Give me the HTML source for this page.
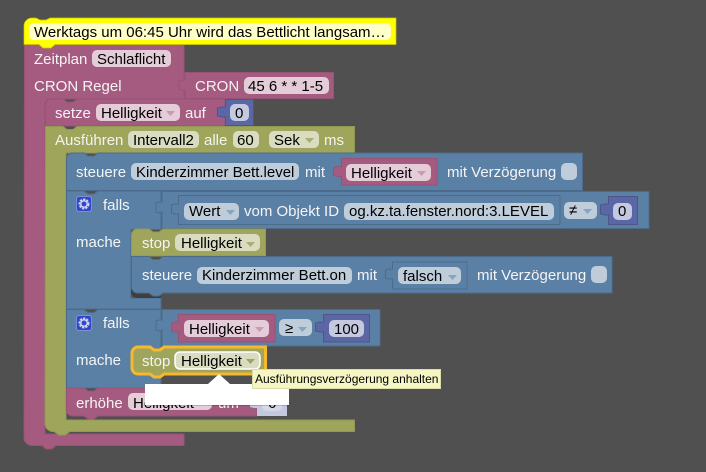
<!DOCTYPE html>
<html><head><meta charset="utf-8">
<style>
html,body{margin:0;padding:0;background:#505050;width:706px;height:472px;overflow:hidden}
svg{display:block;position:absolute;left:0;top:0}
text{font-family:"Liberation Sans",sans-serif;font-size:15px}
.w{fill:#f4f4f4}
.k{fill:#000}
.p{fill:#a55b80;stroke:#975274;stroke-width:1}
.g{fill:#9fa55b;stroke:#929854;stroke-width:1}
.b{fill:#5b80a5;stroke:#4c6b8a;stroke-width:1}
.n{fill:#5b67a5;stroke:#4c568a;stroke-width:1}
.fp{fill:#e4cdd9}
.fg{fill:#d9dcc0}
.fb{fill:#bfcddb}
.fn{fill:#c5c9e0}
.inb{fill:none;stroke:#4c6b8a;stroke-width:1}
</style></head><body>
<svg width="706" height="472" viewBox="0 0 706 472">
<rect width="706" height="472" fill="#505050"/>

<!-- outer pink C block -->
<path class="p" d="M24.5 44.5H184V99H50a5 5 0 0 0-5 5V434H184V445.5H56L52 449H46L42 445.5H32a8 8 0 0 1-8-8Z"/>
<!-- CRON value -->
<path class="p" d="M185 72.500H333.500V98.500H185V90h-3l-3-1V81l3-1h3Z"/>
<rect class="fp" x="244" y="77" width="85" height="17" rx="5"/>
<rect class="fp" x="92" y="50" width="79" height="17" rx="5"/>
<text class="w" x="34" y="64">Zeitplan</text>
<text class="k" x="97" y="64">Schlaflicht</text>
<text class="w" x="34" y="91">CRON Regel</text>
<text class="w" x="195" y="91">CRON</text>
<text class="k" x="248" y="91">45 6 * * 1-5</text>

<!-- setze -->
<path class="p" d="M45.500 105a6 6 0 0 1 6-6H63l4 3h6l4-3H225V126H45.500Z"/>
<path class="n" d="M225.500 99.500H253.500V125.500H225.500V117h-3l-5-1V108l5-1h3Z"/>
<rect class="fp" x="96" y="104" width="84" height="17" rx="5"/>
<rect class="fn" x="230" y="104" width="19" height="17" rx="5"/>
<text class="w" x="55" y="118">setze</text>
<text class="k" x="101" y="118">Helligkeit</text>
<path d="M166 111h9l-4.500 5z" fill="#c99ab0"/>
<text class="w" x="185" y="118">auf</text>
<text class="k" x="235" y="118">0</text>

<!-- green C block -->
<path class="g" d="M45.500 126.500H63l4 3h6l4-3H354.500V153H66V420H354.500V431.500H70L65 435H59L54 431.500H53a8 8 0 0 1-8-8Z"/>
<rect class="fg" x="128" y="131" width="71" height="17" rx="5"/>
<rect class="fg" x="233" y="131" width="26" height="17" rx="5"/>
<rect class="fg" x="269" y="131" width="50" height="17" rx="5"/>
<text class="w" x="55" y="145">Ausführen</text>
<text class="k" x="133" y="145">Intervall2</text>
<text class="w" x="204" y="145">alle</text>
<text class="k" x="237" y="145">60</text>
<text class="k" x="274" y="145">Sek</text>
<path d="M305 138h9l-4.500 5z" fill="#a8ad70"/>
<text class="w" x="324" y="145">ms</text>

<!-- steuere level -->
<path class="b" d="M66.500 159a6 6 0 0 1 6-6H84l4 3h6l4-3H582.500V190.500H66.500Z"/>
<rect class="fb" x="131" y="163" width="168" height="17" rx="5"/>
<text class="w" x="76" y="177">steuere</text>
<text class="k" x="136" y="177">Kinderzimmer Bett.level</text>
<text class="w" x="305" y="177">mit</text>
<path class="p" d="M341.500 158.500H437V185H341.500V176.500h-3l-5-1V167.500l5-1h3Z"/>
<rect class="fp" x="346" y="164" width="85" height="17" rx="5"/>
<text class="k" x="351" y="178">Helligkeit</text>
<path d="M417 171h9l-4.500 5z" fill="#c99ab0"/>
<text class="w" x="447" y="177">mit Verzögerung</text>
<rect class="fb" x="561" y="163" width="16" height="17" rx="5"/>

<!-- falls 1 -->
<path class="b" d="M66.500 191H84l4 3h6l4-3H161V229.500H131V298H161V309H66.500Z"/>
<path class="b" d="M162 191.500H649V228.500H162V212l-3 1-3-1V203l3-1 3 0Z"/>
<rect x="76.500" y="196.500" width="15" height="15" rx="2.500" fill="#3345c8" stroke="#8fa0e0" stroke-width=".7"/>
<circle cx="84" cy="204" r="4.300" fill="none" stroke="#ccd4f5" stroke-width="2.400" stroke-dasharray="2.200 1"/>
<circle cx="84" cy="204" r="3.200" fill="none" stroke="#ccd4f5" stroke-width="1.400"/>
<text class="w" x="103" y="210">falls</text>
<text class="w" x="76" y="247">mache</text>
<path class="inb" d="M178.500 195.500H560V224.500H178.500V214h-3l-4-1V205l4-1h3Z" style="fill:#5b80a5"/>
<rect class="fb" x="184" y="203" width="55" height="17" rx="5"/>
<text class="k" x="189" y="216">Wert</text>
<path d="M226 210h9l-4.500 5z" fill="#8aa4bd"/>
<text class="w" x="244" y="216">vom Objekt ID</text>
<rect class="fb" x="344" y="203" width="210" height="17" rx="5"/>
<text class="k" x="349" y="216">og.kz.ta.fenster.nord:3.LEVEL</text>
<rect class="fb" x="564" y="202" width="33" height="17" rx="5"/>
<text class="k" x="569" y="215">≠</text>
<path d="M583 209h9l-4.500 5z" fill="#8aa4bd"/>
<path class="n" d="M608.500 196.500H637.500V224.500H608.500V215h-3l-5-1V205l5-1h3Z"/>
<rect class="fn" x="613" y="203" width="19" height="17" rx="5"/>
<text class="k" x="618" y="216">0</text>

<!-- stop 1 -->
<path class="g" d="M131.500 235a6 6 0 0 1 6-6H149l4 3h6l4-3H265.500V256H131.500Z"/>
<rect class="fg" x="175" y="234" width="85" height="17" rx="5"/>
<text class="w" x="142" y="248">stop</text>
<text class="k" x="181" y="248">Helligkeit</text>
<path d="M246 242h9l-4.500 5z" fill="#a8ad70"/>
<!-- steuere on -->
<path d="M131 280V292a6 6 0 0 0 6 6H161V280Z" fill="#3f3f3f"/>
<path class="b" d="M131.500 256.500H149l4 3h6l4-3H612V293H163l-4 3h-6l-4-3H137.500a6 6 0 0 1-6-6Z"/>
<rect class="fb" x="197" y="267" width="155" height="17" rx="5"/>
<text class="w" x="142" y="280">steuere</text>
<text class="k" x="202" y="280">Kinderzimmer Bett.on</text>
<text class="w" x="357" y="280">mit</text>
<path class="inb" d="M392.500 262H467V289H392.500V279h-3l-4-1V270l4-1h3Z" style="fill:#5b80a5"/>
<rect class="fb" x="398" y="267" width="63" height="17" rx="5"/>
<text class="k" x="403" y="281">falsch</text>
<path d="M448 275h9l-4.500 5z" fill="#8aa4bd"/>
<text class="w" x="477" y="280">mit Verzögerung</text>
<rect class="fb" x="591" y="266" width="16" height="17" rx="5"/>

<!-- falls 2 -->
<path class="b" d="M66.500 309.500H84l4 3h6l4-3H161V388H66.500Z"/>
<path class="b" d="M162 309.500H380V346H162V330l-3 1-3-1V321l3-1 3 0Z"/>
<rect x="76.500" y="315.500" width="15" height="15" rx="2.500" fill="#3345c8" stroke="#8fa0e0" stroke-width=".7"/>
<circle cx="84" cy="323" r="4.300" fill="none" stroke="#ccd4f5" stroke-width="2.400" stroke-dasharray="2.200 1"/>
<circle cx="84" cy="323" r="3.200" fill="none" stroke="#ccd4f5" stroke-width="1.400"/>
<text class="w" x="103" y="328">falls</text>
<text class="w" x="76" y="365">mache</text>
<path class="p" d="M178.500 314.500H275V342H178.500V332h-3l-4-1V323l4-1h3Z"/>
<rect class="fp" x="184" y="320" width="85" height="17" rx="5"/>
<text class="k" x="189" y="334">Helligkeit</text>
<path d="M255 327h9l-4.500 5z" fill="#c99ab0"/>
<rect class="fb" x="279" y="319" width="33" height="17" rx="5"/>
<text class="k" x="285" y="333">≥</text>
<path d="M298 327h9l-4.500 5z" fill="#8aa4bd"/>
<path class="n" d="M323.500 314.500H369.500V342H323.500V332h-3l-5-1V323l5-1h3Z"/>
<rect class="fn" x="329" y="320" width="35" height="17" rx="5"/>
<text class="k" x="334" y="334">100</text>

<!-- erhöhe -->
<path class="p" d="M66.500 388H84l4 3h6l4-3H257V416H98l-4 3h-6l-4-3H72.500a6 6 0 0 1-6-6Z"/>
<path d="M257 388H287V416H257V408h-3l-4-1V398l4-1h3Z" fill="#c5c9e0"/>
<rect class="fp" x="128" y="393" width="84" height="17" rx="5"/>
<text class="w" x="76" y="408">erhöhe</text>
<text class="k" x="133" y="408">Helligkeit</text>
<text class="w" x="218" y="408">um</text>
<rect x="262" y="394" width="20" height="17" rx="5" fill="#d6d8e8"/>
<text class="k" x="268" y="408">6</text>

<!-- stop highlighted -->
<path d="M132 353a6 6 0 0 1 6-6H150l4 3h6l4-3H265.500V374H164l-4 3h-6l-4-3H138a6 6 0 0 1-6-6Z" fill="#9fa55b" stroke="#f5b82e" stroke-width="3"/>
<rect x="175" y="352" width="85" height="17" rx="5" fill="#d9dcc0" stroke="#fff" stroke-width="1.500"/>
<text class="w" x="142" y="366">stop</text>
<text class="k" x="181" y="366">Helligkeit</text>
<path d="M246 359h9l-4.500 5z" fill="#9fa55b"/>

<!-- white popup -->
<rect x="147" y="386" width="142" height="20" fill="#000" opacity=".18"/>
<path d="M145 384H208L219 374L230 384H289V405H145Z" fill="#fff"/>

<!-- tooltip -->
<rect x="252.500" y="369.500" width="188" height="19" fill="#f6f6c4" stroke="#dcdca8" stroke-width="1"/>
<text x="255" y="383" fill="#000" style="font-size:12px">Ausführungsverzögerung anhalten</text>

<!-- comment (yellow) -->
<path d="M24 26a8 8 0 0 1 8-8H36l4 2h6l4-2H396V44.500H55l-4 3.500H43l-4-3.500H24Z" fill="#ffff00" stroke="#c8c800" stroke-width=".7"/>
<rect x="29" y="23" width="362" height="17" rx="5" fill="#ffffc7"/>
<text x="34" y="37" fill="#000">Werktags um 06:45 Uhr wird das Bettlicht langsam…</text>
</svg>
</body></html>
